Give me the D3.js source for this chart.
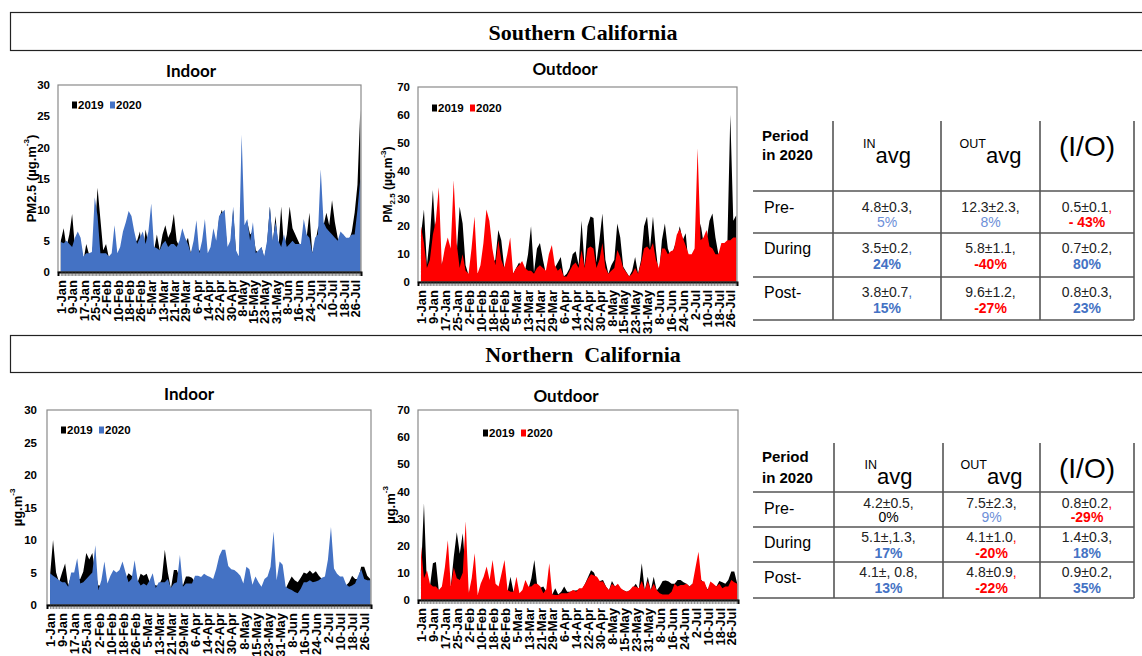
<!DOCTYPE html>
<html>
<head>
<meta charset="utf-8">
<script src="https://cdn.jsdelivr.net/npm/d3@7"></script>
<style>
  body { margin: 0; background: #fff; }
  svg text { font-family: "Liberation Sans", Arial, sans-serif; }
</style>
</head>
<body>
<svg id="fig" width="1142" height="656"></svg>
<script>
// ---- data (one value every 2 days, 1-Jan .. 31-Jul) ----
const sampleDays = d3.range(0, 213, 2);

const tickLabels = ["1-Jan", "9-Jan", "17-Jan", "25-Jan", "2-Feb", "10-Feb", "18-Feb", "26-Feb",
  "5-Mar", "13-Mar", "21-Mar", "29-Mar", "6-Apr", "14-Apr", "22-Apr", "30-Apr", "8-May", "15-May",
  "23-May", "31-May", "8-Jun", "16-Jun", "24-Jun", "2-Jul", "10-Jul", "18-Jul", "26-Jul"];

// Southern California, indoor
const socalIndoor2020 = [
  4.8, 4.6, 5.0, 4.5, 4.0, 5.5, 6.5, 5.5, 2.5, 3.0,
  3.0, 3.2, 12.0, 9.0, 3.0, 3.0, 3.0, 2.5, 3.0, 7.5,
  3.0, 4.0, 6.5, 8.0, 9.8, 9.0, 6.5, 4.5, 5.5, 6.5,
  4.5, 6.5, 11.0, 4.0, 3.8, 3.5, 4.5, 5.0, 4.0, 4.5,
  4.5, 4.0, 5.0, 7.0, 5.5, 4.5, 3.0, 5.0, 8.3, 3.0,
  5.0, 8.5, 3.0, 4.0, 7.0, 5.0, 9.0, 9.5, 10.0, 4.0,
  5.0, 10.5, 3.5, 2.5, 22.0, 7.5, 8.5, 5.0, 8.0, 3.0,
  3.5, 4.0, 2.5, 5.0, 10.5, 5.0, 8.0, 5.0, 4.0, 6.0,
  4.0, 4.5, 5.0, 4.5, 4.5, 4.5, 8.5, 6.0, 5.5, 3.0,
  5.5, 6.0, 16.5, 8.0, 7.0, 6.5, 6.0, 5.5, 5.0, 6.5,
  6.0, 5.5, 5.5, 6.0, 6.0, 10.0, 15.0];
const socalIndoor2019 = [
  5.0, 7.0, 4.0, 6.0, 9.3, 4.0, 5.0, 3.5, 1.8, 4.5,
  2.8, 3.0, 6.0, 13.5, 8.5, 3.5, 4.5, 2.3, 2.2, 3.0,
  2.5, 3.5, 4.0, 5.0, 6.0, 5.5, 5.0, 5.0, 6.5, 2.5,
  6.8, 4.5, 4.0, 3.5, 6.0, 3.5, 6.0, 7.5, 5.5, 6.5,
  9.3, 5.0, 4.0, 5.5, 4.5, 5.5, 3.0, 4.0, 4.0, 3.5,
  3.0, 4.0, 2.5, 3.0, 4.5, 4.0, 8.5, 10.0, 8.0, 3.5,
  4.0, 10.0, 3.0, 2.5, 5.0, 7.0, 8.0, 6.0, 6.5, 3.5,
  3.0, 4.0, 2.2, 4.5, 10.5, 4.5, 9.0, 3.5, 10.5, 4.0,
  6.0, 10.5, 7.0, 6.0, 5.0, 4.0, 5.0, 5.5, 9.5, 3.0,
  4.5, 7.0, 8.0, 7.5, 9.5, 7.5, 11.5, 8.0, 5.5, 4.0,
  6.0, 5.0, 5.0, 6.5, 9.5, 14.0, 26.0];

// Southern California, outdoor
const socalOutdoor2020 = [
  20, 14, 5, 8, 17, 22, 34, 6, 12, 16,
  12, 36.5, 14, 5, 10, 4, 3, 12, 23.5, 3,
  6, 14, 26, 22, 12, 6, 15, 8, 5, 10,
  16, 3, 5, 6, 7.5, 5, 4, 4, 3, 5,
  6, 5, 4, 10, 13.3, 6, 4, 5, 2, 2,
  4, 6, 7, 5, 11.5, 5, 12, 12.7, 12, 5,
  8, 14, 5, 3, 4, 5, 11.5, 9, 5, 3.5,
  2, 3, 5, 3, 7, 12, 12.7, 11.5, 14, 8,
  5, 12, 12, 10, 11, 11.5, 17, 19, 16, 13,
  10, 10, 12, 48, 15, 16, 18.7, 12.7, 12, 10,
  10, 14, 14, 15, 15, 16, 16];
const socalOutdoor2019 = [
  17, 26, 6, 16, 33, 14, 10, 6, 10, 8,
  10, 12, 10, 27, 21, 6, 2.5, 3, 5, 3,
  4, 5, 8, 6, 7, 8, 18.7, 15, 5, 8,
  6, 3, 5, 7, 5, 4, 10, 20, 3.5, 12,
  14, 8, 3, 6, 8, 5, 7, 9, 2, 3,
  5, 10, 11, 6, 22, 5.5, 20, 23.5, 23, 7,
  15, 24.6, 8, 3, 6, 8, 21, 16, 5.5, 3.7,
  2, 4, 9, 3, 8, 20, 23.5, 12, 23.5, 11.5,
  2, 15, 21, 12, 9, 12, 15, 20, 15, 17.5,
  6, 8, 10, 12, 21, 14, 15, 22, 24.6, 16,
  10, 12, 14, 13, 60, 22, 24];

// Northern California, indoor
const norcalIndoor2020 = [
  4.9, 4.5, 4.2, 3.8, 3.5, 3.5, 2.8, 5, 5, 7.2,
  3.3, 3.5, 4, 4.5, 5, 9.2, 2.3, 3.8, 6.7, 3.3,
  4.5, 5.4, 5, 5.4, 6.7, 5, 3.5, 4, 6.9, 3.8,
  3, 3.3, 3, 3.8, 4.9, 2.6, 3.5, 3.5, 3.5, 4,
  2.6, 3.3, 3.5, 7.7, 2.8, 3.3, 3.3, 3.3, 4.5, 4.5,
  4.3, 4.8, 4.5, 4.3, 4, 5.5, 7.5, 8.5, 8.5, 6,
  5.5, 5.4, 5, 4.5, 3.3, 5.9, 5.5, 3.1, 4.4, 3.5,
  2.8, 4, 4.4, 5.9, 11.3, 3.8, 6.7, 6.2, 2.8, 2.5,
  2.3, 2, 1.8, 2.5, 3.5, 3.5, 3.8, 3.5, 3.6, 3.8,
  4.2, 4.4, 7, 12, 5.6, 4.8, 4.4, 4.4, 3.2, 2.8,
  3, 3.3, 4.5, 5.5, 4, 3.8, 3.8];
const norcalIndoor2019 = [
  4.5, 10, 5, 3.5, 5, 6.4, 3, 4.5, 4, 4,
  4, 5.1, 8, 7, 8, 5, 3, 3, 3, 3,
  3.5, 4, 4, 4, 4, 4, 4.9, 4.5, 4, 3.5,
  4.8, 4.5, 4.8, 3.5, 3.5, 3, 3, 4, 8.5, 5,
  2.5, 5.4, 5.4, 4, 3, 4.4, 4.4, 4.2, 3.5, 3.5,
  3.5, 3.5, 3.5, 3.5, 3.5, 3.5, 4, 4, 4, 4,
  4, 4, 4, 4, 3, 4, 4, 3, 3.5, 3,
  2.5, 3, 3.5, 4, 4, 3.5, 4, 4, 2.5, 3.5,
  4.4, 3.8, 3.5, 4.2, 5, 4.8, 5.3, 4.8, 5.2, 4.5,
  4, 4, 4.2, 4.5, 4.5, 4, 4, 3.8, 3, 3.5,
  4.5, 4, 4, 5.9, 5.9, 4.5, 4];

// Northern California, outdoor
const norcalOutdoor2020 = [
  19.7, 8, 11, 6, 5, 5, 3.7, 5, 12, 22,
  5, 12, 8, 7.4, 10, 29, 2.5, 8, 17.2, 1.8,
  6, 8.6, 12.3, 7.4, 14.7, 6, 5, 9.8, 14.7, 3.7,
  3, 3, 8.6, 2.5, 3.7, 7.4, 5, 5, 6, 6,
  5, 2.5, 4, 13.5, 2, 1.8, 1.8, 2.5, 2.5, 2.5,
  3, 3.7, 3, 4.3, 4.3, 6, 8, 9.5, 9, 8.6,
  6.8, 6.8, 5, 3.7, 6, 5, 6, 4.3, 3.5, 3,
  3.7, 5, 5, 4.3, 7, 3.7, 7, 3.7, 6, 3.7,
  2.5, 2, 2, 2, 3, 6, 5, 5.5, 5.5, 6,
  5, 6, 12, 17.8, 7, 6.8, 3.7, 6.8, 6, 5,
  6, 4.3, 5, 5, 7.4, 6.5, 6];
const norcalOutdoor2019 = [
  10, 35.6, 5, 5, 13.5, 14, 3, 4, 4, 5,
  5, 16, 25, 17, 24.6, 10, 2, 3, 3, 1.5,
  3, 3, 4, 5, 5, 4, 4, 5, 5, 3,
  8.6, 3, 4, 2, 3, 4, 4, 8, 14.7, 5,
  4.5, 5, 3, 3, 2, 4.3, 2, 3, 5, 3,
  3, 3.5, 3.5, 4, 4, 6, 8.5, 11, 10, 7,
  7, 7.4, 5, 3.5, 7, 5, 5.5, 4, 3.5, 3,
  3.5, 4.5, 6, 4, 13.5, 3.5, 8.6, 3.5, 8.6, 3.5,
  5, 7, 7.2, 6.8, 6, 6, 7.4, 7.4, 6.5, 6,
  5, 6, 6, 7, 7.4, 6, 4, 5, 5.5, 5,
  7, 6.5, 6, 7.4, 10.5, 10.5, 6];

// tables
const periods = ["Pre-", "During", "Post-"];
const socalInAvg = ["4.8±0.3", "3.5±0.2", "3.8±0.7"];
const socalInPct = ["5%", "24%", "15%"];
const socalOutAvg = ["12.3±2.3", "5.8±1.1", "9.6±1.2"];
const socalOutPct = ["8%", "-40%", "-27%"];
const socalIO = ["0.5±0.1", "0.7±0.2", "0.8±0.3"];
const socalIOPct = ["- 43%", "80%", "23%"];

const norcalInAvg = ["4.2±0.5", "5.1±,1.3", "4.1±, 0.8"];
const norcalInPct = ["0%", "17%", "13%"];
const norcalOutAvg = ["7.5±2.3", "4.1±1.0", "4.8±0.9"];
const norcalOutPct = ["9%", "-20%", "-22%"];
const norcalIO = ["0.8±0.2", "1.4±0.3", "0.9±0.2"];
const norcalIOPct = ["-29%", "18%", "35%"];

// ---- styling ----
const BLUE = "#4472c4";
const LIGHTBLUE = "#6d8fd8";
const RED = "#ff0000";
const LINE = "#555";

const svg = d3.select("#fig");

// section header boxes
function sectionBox(y0, h, title) {
  svg.append("rect")
    .attr("x", 10.5).attr("y", y0 + 0.5)
    .attr("width", 1140).attr("height", h)
    .attr("fill", "none").attr("stroke", "#222").attr("stroke-width", 1.2);
  svg.append("text")
    .attr("x", 583).attr("y", y0 + h / 2 + 1)
    .attr("text-anchor", "middle").attr("dominant-baseline", "central")
    .style("font-family", "'Liberation Serif', 'Times New Roman', serif")
    .style("font-weight", "bold").style("font-size", "22px")
    .style("white-space", "pre")
    .text(title);
}
sectionBox(12, 38, "Southern California");
sectionBox(335, 37, "Northern  California");

function drawChart(o) {
  const g = svg.append("g");
  const x = d3.scaleLinear().domain([-2, 212.5]).range([o.left, o.right]);
  const y = d3.scaleLinear().domain([0, o.ymax]).range([o.bottom, o.top]);

  const area = d3.area()
    .x((d, i) => x(sampleDays[i]))
    .y0(y(0))
    .y1(d => y(d));

  g.append("path").datum(o.s2019).attr("d", area).attr("fill", "#000");
  g.append("path").datum(o.s2020).attr("d", area).attr("fill", o.color);

  // frame
  g.append("rect")
    .attr("x", o.left).attr("y", o.top)
    .attr("width", o.right - o.left).attr("height", o.bottom - o.top)
    .attr("fill", "none").attr("stroke", "#8a8a8a").attr("stroke-width", 1.2);

  // y axis
  const yAxis = g.append("g")
    .attr("transform", `translate(${o.left},0)`)
    .call(d3.axisLeft(y).tickValues(d3.range(0, o.ymax + 1, o.ystep)).tickSize(0).tickPadding(o.ypad));
  yAxis.select(".domain").remove();
  yAxis.selectAll("text")
    .style("font-size", "11.5px").style("font-weight", "bold").attr("fill", "#000");

  // x axis: daily ticks, a label every 8 days
  const xAxis = g.append("g")
    .attr("transform", `translate(0,${o.bottom})`)
    .call(d3.axisBottom(x)
      .tickValues(d3.range(0, 213))
      .tickSize(4)
      .tickFormat(d => d % 8 === 0 && tickLabels[d / 8] ? tickLabels[d / 8] : ""));
  xAxis.select(".domain").attr("stroke", "#000").attr("stroke-width", 2);
  xAxis.selectAll(".tick line").attr("stroke", "#444").attr("stroke-width", 0.6);
  xAxis.selectAll("text")
    .attr("y", 0).attr("x", -8).attr("dy", "0.36em")
    .attr("transform", "rotate(-90)")
    .style("text-anchor", "end")
    .style("font-size", "13px").style("font-weight", "bold").attr("fill", "#000");

  // title
  g.append("text")
    .attr("x", o.titleX).attr("y", o.titleY)
    .attr("text-anchor", "middle").attr("dominant-baseline", "central")
    .style("font-family", "Lato, 'Liberation Sans', sans-serif")
    .style("font-weight", "bold").style("font-size", "17px")
    .text(o.title);

  // y label
  const yl = g.append("text")
    .attr("transform", `translate(${o.ylabelX},${(o.top + o.bottom) / 2}) rotate(-90)`)
    .attr("text-anchor", "middle").attr("dominant-baseline", "central")
    .style("font-weight", "bold").style("font-size", o.ylabelSize + "px");
  o.ylabel.forEach(part => {
    const t = yl.append("tspan").text(part.t);
    if (part.sub) t.attr("baseline-shift", "sub").style("font-size", "8px");
    if (part.sup) t.attr("baseline-shift", "super").style("font-size", "8px");
  });

  // legend
  const lg = g.append("g").attr("transform", `translate(${o.legX},${o.legY})`);
  [["2019", "#000", 0], ["2020", o.color, 38]].forEach(([lab, col, dx]) => {
    lg.append("rect").attr("x", dx).attr("y", -3.5).attr("width", 5).attr("height", 7).attr("fill", col);
    lg.append("text").attr("x", dx + 6).attr("y", 0)
      .attr("dominant-baseline", "central")
      .style("font-weight", "bold").style("font-size", "11.5px").text(lab);
  });
}

const pmLabel = [{ t: "PM2.5 (µg.m" }, { t: "-3", sup: true }, { t: ")" }];
const pmSubLabel = [{ t: "PM" }, { t: "2.5", sub: true }, { t: " (µg.m" }, { t: "-3", sup: true }, { t: ")" }];
const ugLabel = [{ t: "µg.m" }, { t: "-3", sup: true }];

drawChart({ left: 58, right: 361, top: 85, bottom: 272, ymax: 30, ystep: 5, ypad: 8,
  s2019: socalIndoor2019, s2020: socalIndoor2020, color: BLUE,
  title: "Indoor", titleX: 191, titleY: 70, ylabel: pmLabel, ylabelX: 31, ylabelSize: 13,
  legX: 72, legY: 105 });
drawChart({ left: 418, right: 737, top: 87, bottom: 282, ymax: 70, ystep: 10, ypad: 8,
  s2019: socalOutdoor2019, s2020: socalOutdoor2020, color: RED,
  title: "Outdoor", titleX: 565, titleY: 68, ylabel: pmSubLabel, ylabelX: 388, ylabelSize: 12,
  legX: 432, legY: 108 });
drawChart({ left: 47, right: 371, top: 410, bottom: 605, ymax: 30, ystep: 5, ypad: 10,
  s2019: norcalIndoor2019, s2020: norcalIndoor2020, color: BLUE,
  title: "Indoor", titleX: 189, titleY: 393, ylabel: ugLabel, ylabelX: 17, ylabelSize: 13,
  legX: 61, legY: 430 });
drawChart({ left: 418, right: 738, top: 410, bottom: 600, ymax: 70, ystep: 10, ypad: 8,
  s2019: norcalOutdoor2019, s2020: norcalOutdoor2020, color: RED,
  title: "Outdoor", titleX: 566, titleY: 395, ylabel: ugLabel, ylabelX: 390, ylabelSize: 13,
  legX: 483, legY: 433 });

// ---- tables ----
function pctColor(p, light) {
  if (p.trim().startsWith("-")) return RED;
  if (p === "0%") return "#000";
  return light ? LIGHTBLUE : BLUE;
}

function drawTable(o) {
  const g = svg.append("g");
  const cx = o.cols;
  // vertical lines
  cx.slice(1).forEach(xv => {
    g.append("line").attr("x1", xv).attr("x2", xv).attr("y1", o.top).attr("y2", o.rows[3])
      .attr("stroke", LINE).attr("stroke-width", 1.6);
  });
  o.rows.forEach(yv => {
    g.append("line").attr("x1", cx[0]).attr("x2", cx[4]).attr("y1", yv).attr("y2", yv)
      .attr("stroke", LINE).attr("stroke-width", 1.6);
  });

  // header
  ["Period", "in 2020"].forEach((t, i) => {
    g.append("text").attr("x", cx[0] + 9).attr("y", o.hPeriod[i])
      .attr("dominant-baseline", "central")
      .style("font-weight", "bold").style("font-size", "15px").text(t);
  });
  [["IN", 1], ["OUT", 2]].forEach(([sup, c]) => {
    const t = g.append("text").attr("x", (cx[c] + cx[c + 1]) / 2).attr("y", o.hAvg)
      .attr("text-anchor", "middle").attr("dominant-baseline", "central");
    t.append("tspan").text(sup).attr("dy", "-0.5em").style("font-size", "12.5px");
    t.append("tspan").text("avg").attr("dy", "0.5em").style("font-size", "22px");
  });
  g.append("text").attr("x", (cx[3] + cx[4]) / 2).attr("y", o.hIO)
    .attr("text-anchor", "middle").attr("dominant-baseline", "central")
    .style("font-size", "28px").text("(I/O)");

  const cols = [
    { v: o.inAvg, p: o.inPct, c: 1 },
    { v: o.outAvg, p: o.outPct, c: 2 },
    { v: o.io, p: o.ioPct, c: 3 }];

  periods.forEach((per, r) => {
    const rTop = o.rows[r];
    g.append("text").attr("x", cx[0] + 11).attr("y", rTop + o.labOff[r])
      .attr("dominant-baseline", "central").style("font-size", "16px").text(per);
    cols.forEach((col, ci) => {
      const mid = (cx[col.c] + cx[col.c + 1]) / 2;
      const t1 = g.append("text").attr("x", mid).attr("y", rTop + o.l1Off[r])
        .attr("text-anchor", "middle").attr("dominant-baseline", "central")
        .style("font-size", "14px").attr("fill", "#222");
      t1.append("tspan").text(col.v[r]);
      t1.append("tspan").text(",").attr("fill", o.commaColor[r][ci]);
      const light = o.lightPct[r][ci];
      g.append("text").attr("x", mid).attr("y", rTop + o.l2Off[r])
        .attr("text-anchor", "middle").attr("dominant-baseline", "central")
        .style("font-size", "14px")
        .style("font-weight", light || col.p[r] === "0%" ? "normal" : "bold")
        .attr("fill", pctColor(col.p[r], light))
        .text(col.p[r]);
    });
  });
}

drawTable({
  cols: [753, 833, 941, 1040, 1134], top: 121, rows: [191, 233, 277, 320],
  hPeriod: [135, 154], hAvg: 150, hIO: 146,
  l1Off: [16, 15, 15], l2Off: [31, 31, 31], labOff: [16, 15, 15],
  inAvg: socalInAvg, inPct: socalInPct, outAvg: socalOutAvg, outPct: socalOutPct,
  io: socalIO, ioPct: socalIOPct,
  commaColor: [["#222", "#222", RED], [BLUE, "#222", "#222"], [BLUE, "#222", "#222"]],
  lightPct: [[true, true, false], [false, false, false], [false, false, false]]
});

drawTable({
  cols: [753, 834, 943, 1040, 1134], top: 443, rows: [492, 527, 562, 598],
  hPeriod: [456, 477], hAvg: 471, hIO: 468,
  l1Off: [11, 10, 10], l2Off: [25, 26, 26], labOff: [16, 15, 15],
  inAvg: norcalInAvg, inPct: norcalInPct, outAvg: norcalOutAvg, outPct: norcalOutPct,
  io: norcalIO, ioPct: norcalIOPct,
  commaColor: [["#222", "#222", RED], ["#222", RED, "#222"], ["#222", RED, "#222"]],
  lightPct: [[false, true, false], [false, false, false], [false, false, false]]
});
</script>
</body>
</html>
